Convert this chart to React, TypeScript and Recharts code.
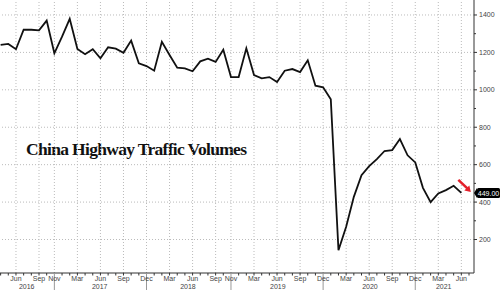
import { LineChart, Line, XAxis, YAxis, ReferenceLine, ReferenceDot } from "recharts";

// monthly highway traffic volume (Apr 2016 .. Jun 2021, Jan/Feb merged in some years)
const volumes = [
  1240, 1245, 1217, 1321, 1321, 1318, 1370, 1195, 1284, 1379,
  1218, 1190, 1217, 1168, 1227, 1220, 1198, 1263, 1142, 1127,
  1102, 1257, 1186, 1118, 1115, 1099, 1152, 1166, 1149, 1214,
  1068, 1068, 1222, 1079, 1061, 1068, 1042, 1102, 1111, 1095,
  1158, 1022, 1013, 949, 143, 268, 428, 544, 592, 630,
  673, 678, 737, 650, 612, 476, 400, 446, 464, 487,
  449,
];

const monthTicks = [2, 5, 7, 10, 13, 16, 19, 22, 25, 28, 30, 33, 36, 39, 42, 45, 48, 51, 54, 57, 60];
const monthLabels = [
  "Jun", "Sep", "Nov", "Mar", "Jun", "Sep", "Dec", "Mar", "Jun", "Sep", "Nov",
  "Mar", "Jun", "Sep", "Dec", "Mar", "Jun", "Sep", "Dec", "Mar", "Jun",
];
const yearTicks = [3.4, 12.9, 24.4, 36.1, 48.1, 57.7];
const yearLabels = ["2016", "2017", "2018", "2019", "2020", "2021"];
const yearBreaks = [7, 19, 30, 42, 54];

const yMajor = [200, 400, 600, 800, 1000, 1200, 1400];
const yMinor = [300, 500, 700, 900, 1100, 1300];
const lastValue = 449;

const data = volumes.map((v, i) => ({ i, v }));
const monthMarks = Array.from({ length: 62 }, (_, i) => i);

const AXIS_FONT = "'Liberation Sans', Arial, sans-serif";
const AXIS_COLOR = "#444";

function XTick({ x, y, payload }: any) {
  const v = payload.value;
  const yi = yearTicks.indexOf(v);
  if (yi >= 0) {
    return (
      <text x={x} y={y + 16} textAnchor="middle" fontSize={7} fontFamily={AXIS_FONT} fill={AXIS_COLOR}>
        {yearLabels[yi]}
      </text>
    );
  }
  const mi = monthTicks.indexOf(v);
  const isBreak = yearBreaks.includes(v);
  return (
    <g>
      <line x1={x} x2={x} y1={y} y2={y + (isBreak ? 18 : 2.5)} stroke={isBreak ? "#999" : "#333"} strokeWidth={1} />
      {mi >= 0 && (
        <text x={x} y={y + 8} textAnchor="middle" fontSize={7} fontFamily={AXIS_FONT} fill={AXIS_COLOR}>
          {monthLabels[mi]}
        </text>
      )}
    </g>
  );
}

function YTick({ x, y, payload }: any) {
  const v = payload.value;
  if (v === lastValue) {
    return (
      <g>
        <polygon points={`${x},${y} ${x + 3},${y - 5} ${x + 3},${y + 5}`} fill="#000" />
        <rect x={x + 3} y={y - 5} width={23} height={10} rx={1.5} fill="#000" />
        <text x={x + 14.5} y={y + 2.6} textAnchor="middle" fontSize={7} fontFamily={AXIS_FONT} fill="#fff">
          {lastValue.toFixed(2)}
        </text>
      </g>
    );
  }
  if (yMajor.includes(v)) {
    return (
      <g>
        <line x1={x} x2={x + 3} y1={y} y2={y} stroke="#333" />
        <text x={x + 5} y={y + 2.5} fontSize={7} fontFamily={AXIS_FONT} fill={AXIS_COLOR}>
          {v}
        </text>
      </g>
    );
  }
  return <line x1={x} x2={x + 2} y1={y} y2={y} stroke="#333" />;
}

function RedArrow({ cx, cy }: any) {
  if (cx == null || cy == null) return null;
  return (
    <g>
      <line x1={cx - 3} y1={cy - 13} x2={cx + 6} y2={cy - 4.5} stroke="#e3202b" strokeWidth={2.6} />
      <polygon points={`${cx + 9.5},${cy - 1} ${cx + 3},${cy - 2.5} ${cx + 8},${cy - 7.5}`} fill="#e3202b" />
    </g>
  );
}

export default function App() {
  return (
    <div style={{ position: "absolute", left: 0, top: 0, width: 500, height: 290, background: "#fff" }}>
      <LineChart width={500} height={290} data={data} margin={{ top: 0, right: 0, bottom: 0, left: 0 }}>
        <XAxis
          dataKey="i"
          type="number"
          domain={[-0.08, 61.65]}
          allowDataOverflow
          ticks={[...monthMarks, ...yearTicks]}
          interval={0}
          height={17}
          tickSize={0}
          tickMargin={0}
          tickLine={false}
          axisLine={{ stroke: "#333" }}
          tick={<XTick />}
        />
        <YAxis
          orientation="right"
          type="number"
          domain={[21, 1480]}
          allowDataOverflow
          ticks={[...yMinor, ...yMajor, lastValue]}
          interval={0}
          width={26}
          tickSize={0}
          tickMargin={0}
          tickLine={false}
          axisLine={{ stroke: "#333" }}
          tick={<YTick />}
        />
        {yMajor.map((v) => (
          <ReferenceLine key={"h" + v} y={v} stroke="#bbb" strokeDasharray="1 2" />
        ))}
        {monthTicks.map((t) => (
          <ReferenceLine key={"v" + t} x={t} stroke="#bbb" strokeDasharray="1 2" />
        ))}
        <text x={26} y={155} fontSize={17.5} fontWeight="bold" fontFamily="'Liberation Serif', 'Times New Roman', serif" fill="#111" textLength={221}>
          China Highway Traffic Volumes
        </text>
        <Line
          type="linear"
          dataKey="v"
          stroke="#111"
          strokeWidth={1.8}
          dot={false}
          activeDot={false}
          isAnimationActive={false}
        />
        <ReferenceDot x={60} y={lastValue} r={0} shape={<RedArrow />} />
      </LineChart>
    </div>
  );
}
